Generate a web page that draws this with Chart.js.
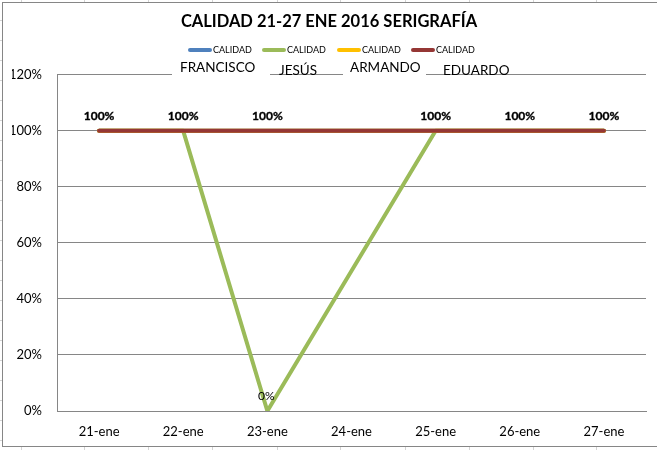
<!DOCTYPE html>
<html>
<head>
<meta charset="utf-8">
<script src="https://cdn.jsdelivr.net/npm/chart.js@4.4.1/dist/chart.umd.min.js"></script>
<style>
  html, body { margin: 0; padding: 0; background: #fff; }
  body { width: 657px; height: 450px; position: relative; overflow: hidden; font-family: Lato, "DejaVu Sans", sans-serif; }
  .cellv { position: absolute; width: 1px; background: #d4d4d4; }
  .cellh { position: absolute; height: 1px; background: #d4d4d4; left: 0; width: 3px; }
  #frame { position: absolute; left: 2px; top: 2px; width: 720px; height: 443px; border: 1px solid #868686; background: #fff; }
  #wrap { position: absolute; left: 0; top: 0; width: 657px; height: 450px; }
  .leg { position: absolute; top: 44px; height: 12px; font-size: 9px; line-height: 12px; color: #000; white-space: nowrap; }
  .leg i { display: inline-block; width: 24px; height: 4px; border-radius: 2px; vertical-align: middle; margin-right: 1px; position: relative; top: -1px; }
  .name { position: absolute; font-size: 13.5px; line-height: 18px; color: #000; background: #fff; white-space: nowrap; }
</style>
</head>
<body>
<div id="cells"></div>
<div id="frame"></div>
<div id="wrap"><canvas id="c" width="657" height="450"></canvas></div>
<div id="overlay"></div>
<script>
const categories = ["21-ene", "22-ene", "23-ene", "24-ene", "25-ene", "26-ene", "27-ene"];
const seriesNames = ["CALIDAD", "CALIDAD", "CALIDAD", "CALIDAD"];
const personNames = ["FRANCISCO", "JESÚS", "ARMANDO", "EDUARDO"];
const francisco = [1, 1, 1, null, 1, 1, 1];
const jesus     = [1, 1, 0, null, 1, 1, 1];
const armando   = [1, 1, 1, null, 1, 1, 1];
const eduardo   = [1, 1, 1, null, 1, 1, 1];
const yTicks = [0, 0.2, 0.4, 0.6, 0.8, 1.0, 1.2];
const colors = ["#4F81BD", "#9BBB59", "#FFC000", "#953735"];

// spreadsheet cell lines outside the chart frame
(function () {
  const cells = document.getElementById('cells');
  const xs = [21, 84, 148, 212, 277, 340, 405, 469, 533, 596];
  xs.forEach(x => {
    const a = document.createElement('div'); a.className = 'cellv';
    a.style.left = x + 'px'; a.style.top = '0px'; a.style.height = '3px'; cells.appendChild(a);
    const b = document.createElement('div'); b.className = 'cellv';
    b.style.left = x + 'px'; b.style.top = '446px'; b.style.height = '4px'; cells.appendChild(b);
  });
  for (let y = 20; y < 450; y += 20) {
    const h = document.createElement('div'); h.className = 'cellh';
    h.style.top = y + 'px'; cells.appendChild(h);
  }
})();

// legend + name text boxes
(function () {
  const ov = document.getElementById('overlay');
  const legX = [188, 262, 337, 411];
  seriesNames.forEach((n, i) => {
    const d = document.createElement('div'); d.className = 'leg';
    d.style.left = legX[i] + 'px';
    d.innerHTML = '<i style="background:' + colors[i] + '"></i>' + n;
    ov.appendChild(d);
  });
  const boxes = [
    { x: 172, w: 98, y: 58, pad: 8 },
    { x: 279, w: 40, y: 61, pad: 0 },
    { x: 343, w: 83, y: 58, pad: 7 },
    { x: 443, w: 64, y: 61, pad: 0 }
  ];
  personNames.forEach((n, i) => {
    const b = boxes[i];
    const d = document.createElement('div'); d.className = 'name';
    d.style.left = b.x + 'px'; d.style.top = b.y + 'px';
    d.style.paddingLeft = b.pad + 'px';
    if (b.pad) { d.style.width = (b.w - b.pad) + 'px'; d.style.height = '19px'; }
    else { d.style.background = 'transparent'; }
    d.textContent = n;
    ov.appendChild(d);
  });
})();

const labelPlugin = {
  id: 'pctLabels',
  afterDatasetsDraw(chart) {
    const ctx = chart.ctx;
    const top = chart.data.datasets[3];
    [1, 3].forEach(di => {
      const ds = chart.data.datasets[di];
      const meta = chart.getDatasetMeta(di);
      ctx.save();
      ctx.fillStyle = '#000';
      ctx.strokeStyle = '#000';
      ctx.lineWidth = 0.35;
      ctx.textAlign = 'center';
      ctx.textBaseline = 'middle';
      ctx.font = (ds.labelBold ? 'bold ' : '') + '12px Lato, "DejaVu Sans", sans-serif';
      meta.data.forEach((pt, j) => {
        const v = ds.data[j];
        if (v === null || v === undefined) return;
        if (di !== 3 && top.data[j] === v) return; // hidden beneath the top series label
        const txt = Math.round(v * 100) + '%';
        const x = pt.x - (ds.labelBold ? 0 : 1);
        ctx.fillText(txt, x, pt.y - 15);
        if (ds.labelBold) ctx.strokeText(txt, x, pt.y - 15);
      });
      ctx.restore();
    });
  }
};

const mk = (label, data, color, order, bold) => ({
  label, data, borderColor: color, backgroundColor: color,
  borderWidth: 4, pointRadius: 0, pointHoverRadius: 0, tension: 0,
  spanGaps: true, borderCapStyle: 'round', borderJoinStyle: 'round',
  fill: false, order, labelBold: bold
});

new Chart(document.getElementById('c'), {
  type: 'line',
  data: {
    labels: categories,
    datasets: [
      mk(seriesNames[0], francisco, colors[0], 3, false),
      mk(seriesNames[1], jesus, colors[1], 2, false),
      mk(seriesNames[2], armando, colors[2], 1, false),
      mk(seriesNames[3], eduardo, colors[3], 0, true)
    ]
  },
  options: {
    responsive: false,
    animation: false,
    events: [],
    layout: { padding: { left: 12, right: 11, top: 0, bottom: 4 } },
    plugins: {
      legend: { display: false },
      tooltip: { enabled: false },
      title: {
        display: true,
        text: 'CALIDAD 21-27 ENE 2016 SERIGRAFÍA',
        color: '#000',
        font: { family: 'Lato', size: 16.5, weight: 'bold' },
        padding: { top: 12, bottom: 43 }
      }
    },
    scales: {
      x: {
        offset: true,
        grid: { display: false, drawTicks: false },
        border: { display: true, color: '#868686', width: 1 },
        ticks: { color: '#000', font: { family: 'Lato', size: 13 }, padding: 13, maxRotation: 0 },
        afterFit(s) { s.height = 35; }
      },
      y: {
        min: 0, max: 1.2,
        afterBuildTicks(s) { s.ticks = yTicks.map(v => ({ value: v })); },
        grid: { color: '#868686', lineWidth: 1, drawTicks: false },
        border: { display: true, color: '#868686', width: 1 },
        ticks: {
          color: '#000', font: { family: 'Lato', size: 13 }, padding: 15,
          callback: v => Math.round(v * 100) + '%'
        },
        afterFit(s) { s.width = 45; }
      }
    }
  },
  plugins: [labelPlugin]
});
</script>
</body>
</html>
